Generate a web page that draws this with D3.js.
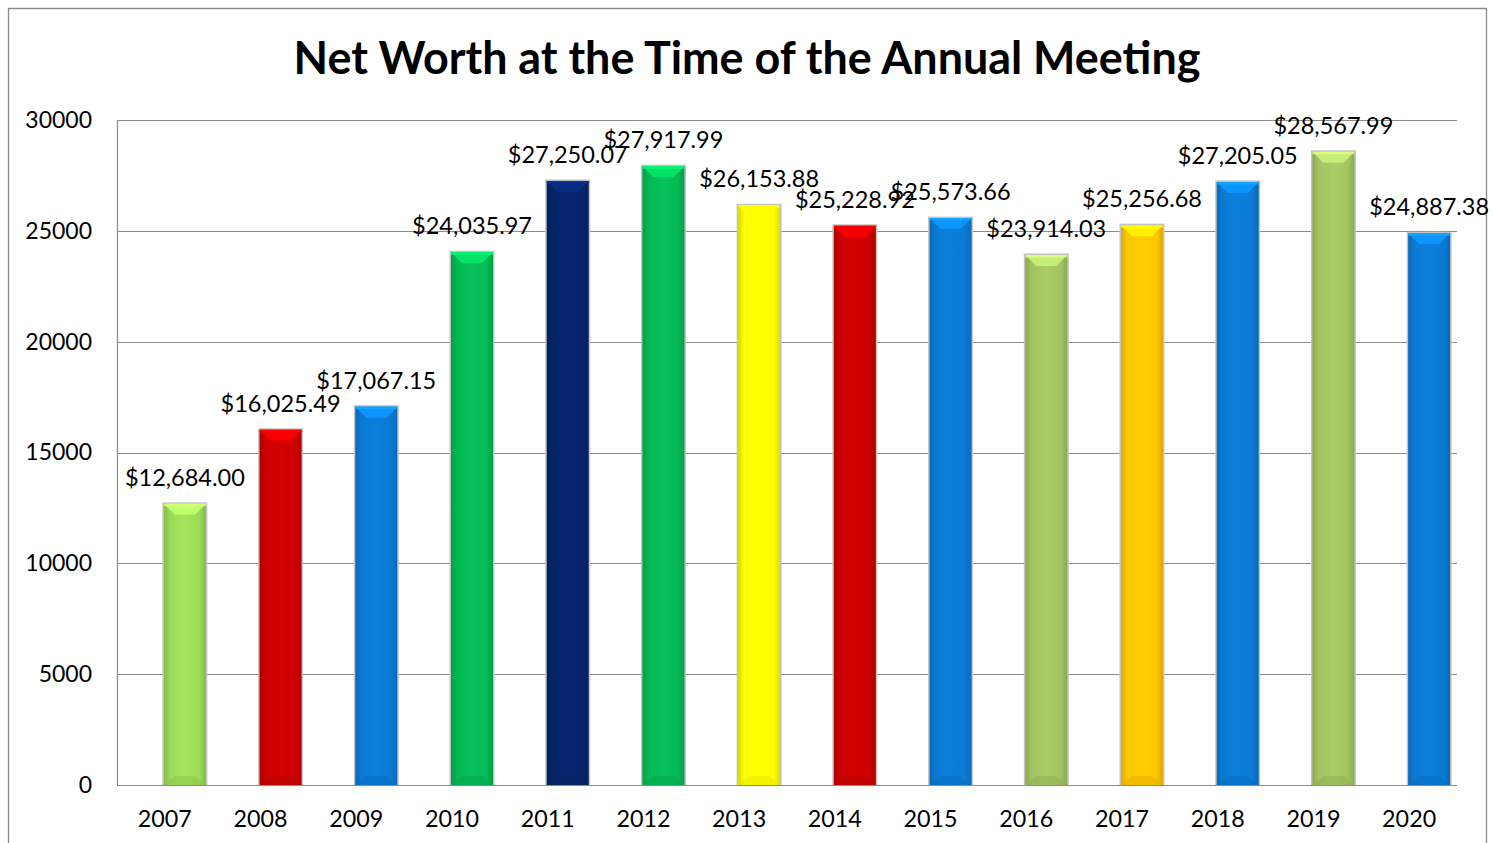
<!DOCTYPE html>
<html><head><meta charset="utf-8">
<script src="https://cdn.jsdelivr.net/npm/d3@7"></script>
<style>html,body{margin:0;padding:0;background:#fff;overflow:hidden}</style>
</head><body>
<svg id="chart" width="1493" height="843"></svg>
<script>
const years = ["2007","2008","2009","2010","2011","2012","2013","2014","2015","2016","2017","2018","2019","2020"];
const netWorth = [12684.00,16025.49,17067.15,24035.97,27250.07,27917.99,26153.88,25228.92,25573.66,23914.03,25256.68,27205.05,28567.99,24887.38];
const barColors = ["#9CDB58","#CC0000","#0B7AD4","#05B955","#06246A","#05B955","#FFFF00","#CC0000","#0B7AD4","#A3C462","#FFC600","#0B7AD4","#A3C462","#0B7AD4"];
const yTicks = [0,5000,10000,15000,20000,25000,30000];
const title = "Net Worth at the Time of the Annual Meeting";

const svg = d3.select("#chart");
const font = "Lato, 'Open Sans', sans-serif";
const M = {left:117, top:120, right:1457, bottom:785};

// outer frame
svg.append("path").attr("d",`M8.5,850V8.5H1486.5V850`).attr("fill","none").attr("stroke","#8a8a8a").attr("stroke-width",1.3);

const x = d3.scaleBand().domain(years).range([M.left, M.right]).padding(0);
const y = d3.scaleLinear().domain([0,30000]).range([M.bottom, M.top]);

// gridlines
svg.append("g").selectAll("line").data(yTicks).join("line")
  .attr("x1",M.left).attr("x2",M.right)
  .attr("y1",d=>Math.round(y(d))+0.5).attr("y2",d=>Math.round(y(d))+0.5)
  .attr("stroke","#8c8c8c").attr("stroke-width",1.2);
svg.append("line").attr("x1",M.left+0.5).attr("x2",M.left+0.5).attr("y1",M.top).attr("y2",M.bottom+0.5)
  .attr("stroke","#8c8c8c").attr("stroke-width",1.2);

// y axis labels
const yAxis = d3.axisLeft(y).tickValues(yTicks).tickSize(0).tickPadding(25).tickFormat(d3.format("d"));
const gy = svg.append("g").attr("transform",`translate(${M.left},0)`).call(yAxis);
gy.select(".domain").remove();
gy.selectAll("text").attr("font-family",font).attr("font-size",23).attr("fill","#000");

// x axis labels
const xAxis = d3.axisBottom(x).tickSize(0).tickPadding(25);
const gx = svg.append("g").attr("transform",`translate(0,${M.bottom})`).call(xAxis);
gx.select(".domain").remove();
gx.selectAll("text").attr("font-family",font).attr("font-size",23.3).attr("fill","#000");

// gradients
const defs = svg.append("defs");
barColors.forEach((c,i)=>{
  const base = d3.color(c);
  const g = defs.append("linearGradient").attr("id","g"+i).attr("x1","0").attr("x2","1").attr("y1","0").attr("y2","0");
  g.append("stop").attr("offset","0").attr("stop-color",base.darker(0.45));
  g.append("stop").attr("offset","0.15").attr("stop-color",base);
  g.append("stop").attr("offset","0.5").attr("stop-color",base.brighter(0.12));
  g.append("stop").attr("offset","0.85").attr("stop-color",base);
  g.append("stop").attr("offset","1").attr("stop-color",base.darker(0.45));
});

const barW = 42, offset = 20;
const cx = d => x(d) + x.bandwidth()/2 + offset;
const data = years.map((yr,i)=>({yr, v:netWorth[i], c:barColors[i], i}));

const bars = svg.append("g").selectAll("g").data(data).join("g");
// shadow / outline
bars.append("rect")
  .attr("x",d=>cx(d.yr)-barW/2-1.5).attr("y",d=>y(d.v)-1.5)
  .attr("width",barW+3).attr("height",d=>M.bottom-y(d.v)+1.5)
  .attr("fill","#c4c4c4");
bars.append("rect")
  .attr("x",d=>cx(d.yr)-barW/2).attr("y",d=>y(d.v))
  .attr("width",barW).attr("height",d=>M.bottom-y(d.v))
  .attr("fill",d=>`url(#g${d.i})`);
// top bevel
bars.append("path")
  .attr("d",d=>{const l=cx(d.yr)-barW/2, r=l+barW, t=y(d.v), h=11;
    return `M${l},${t}H${r}L${r-11},${t+h}H${l+11}Z`;})
  .attr("fill",d=>d3.color(d.c).brighter(0.55));
bars.append("path")
  .attr("d",d=>{const l=cx(d.yr)-barW/2, r=l+barW, t=y(d.v);
    return `M${l},${t}H${r}V${t+2.5}H${l}Z`;})
  .attr("fill",d=>d3.color(d.c).brighter(1.0)).attr("opacity",0.7);
// bottom bevel
bars.append("path")
  .attr("d",d=>{const l=cx(d.yr)-barW/2, r=l+barW, b=M.bottom, h=9;
    return `M${l},${b}H${r}L${r-11},${b-h}H${l+11}Z`;})
  .attr("fill",d=>d3.color(d.c).darker(0.3)).attr("opacity",0.55);

// value labels
const fmt = d3.format("$,.2f");
svg.append("g").selectAll("text").data(data).join("text")
  .attr("x",d=>cx(d.yr)).attr("y",d=>y(d.v)-18)
  .attr("text-anchor","middle").attr("font-family",font).attr("font-size",23.5).attr("fill","#000")
  .text(d=>fmt(d.v));

// title
const t = svg.append("text").attr("x",747).attr("y",74).attr("text-anchor","middle")
  .attr("font-family",font).attr("font-weight","bold").attr("font-size",40).attr("fill","#000").text(title);
const w = t.node().getComputedTextLength();
t.attr("font-size", 40*907/w);
</script>
</body></html>
